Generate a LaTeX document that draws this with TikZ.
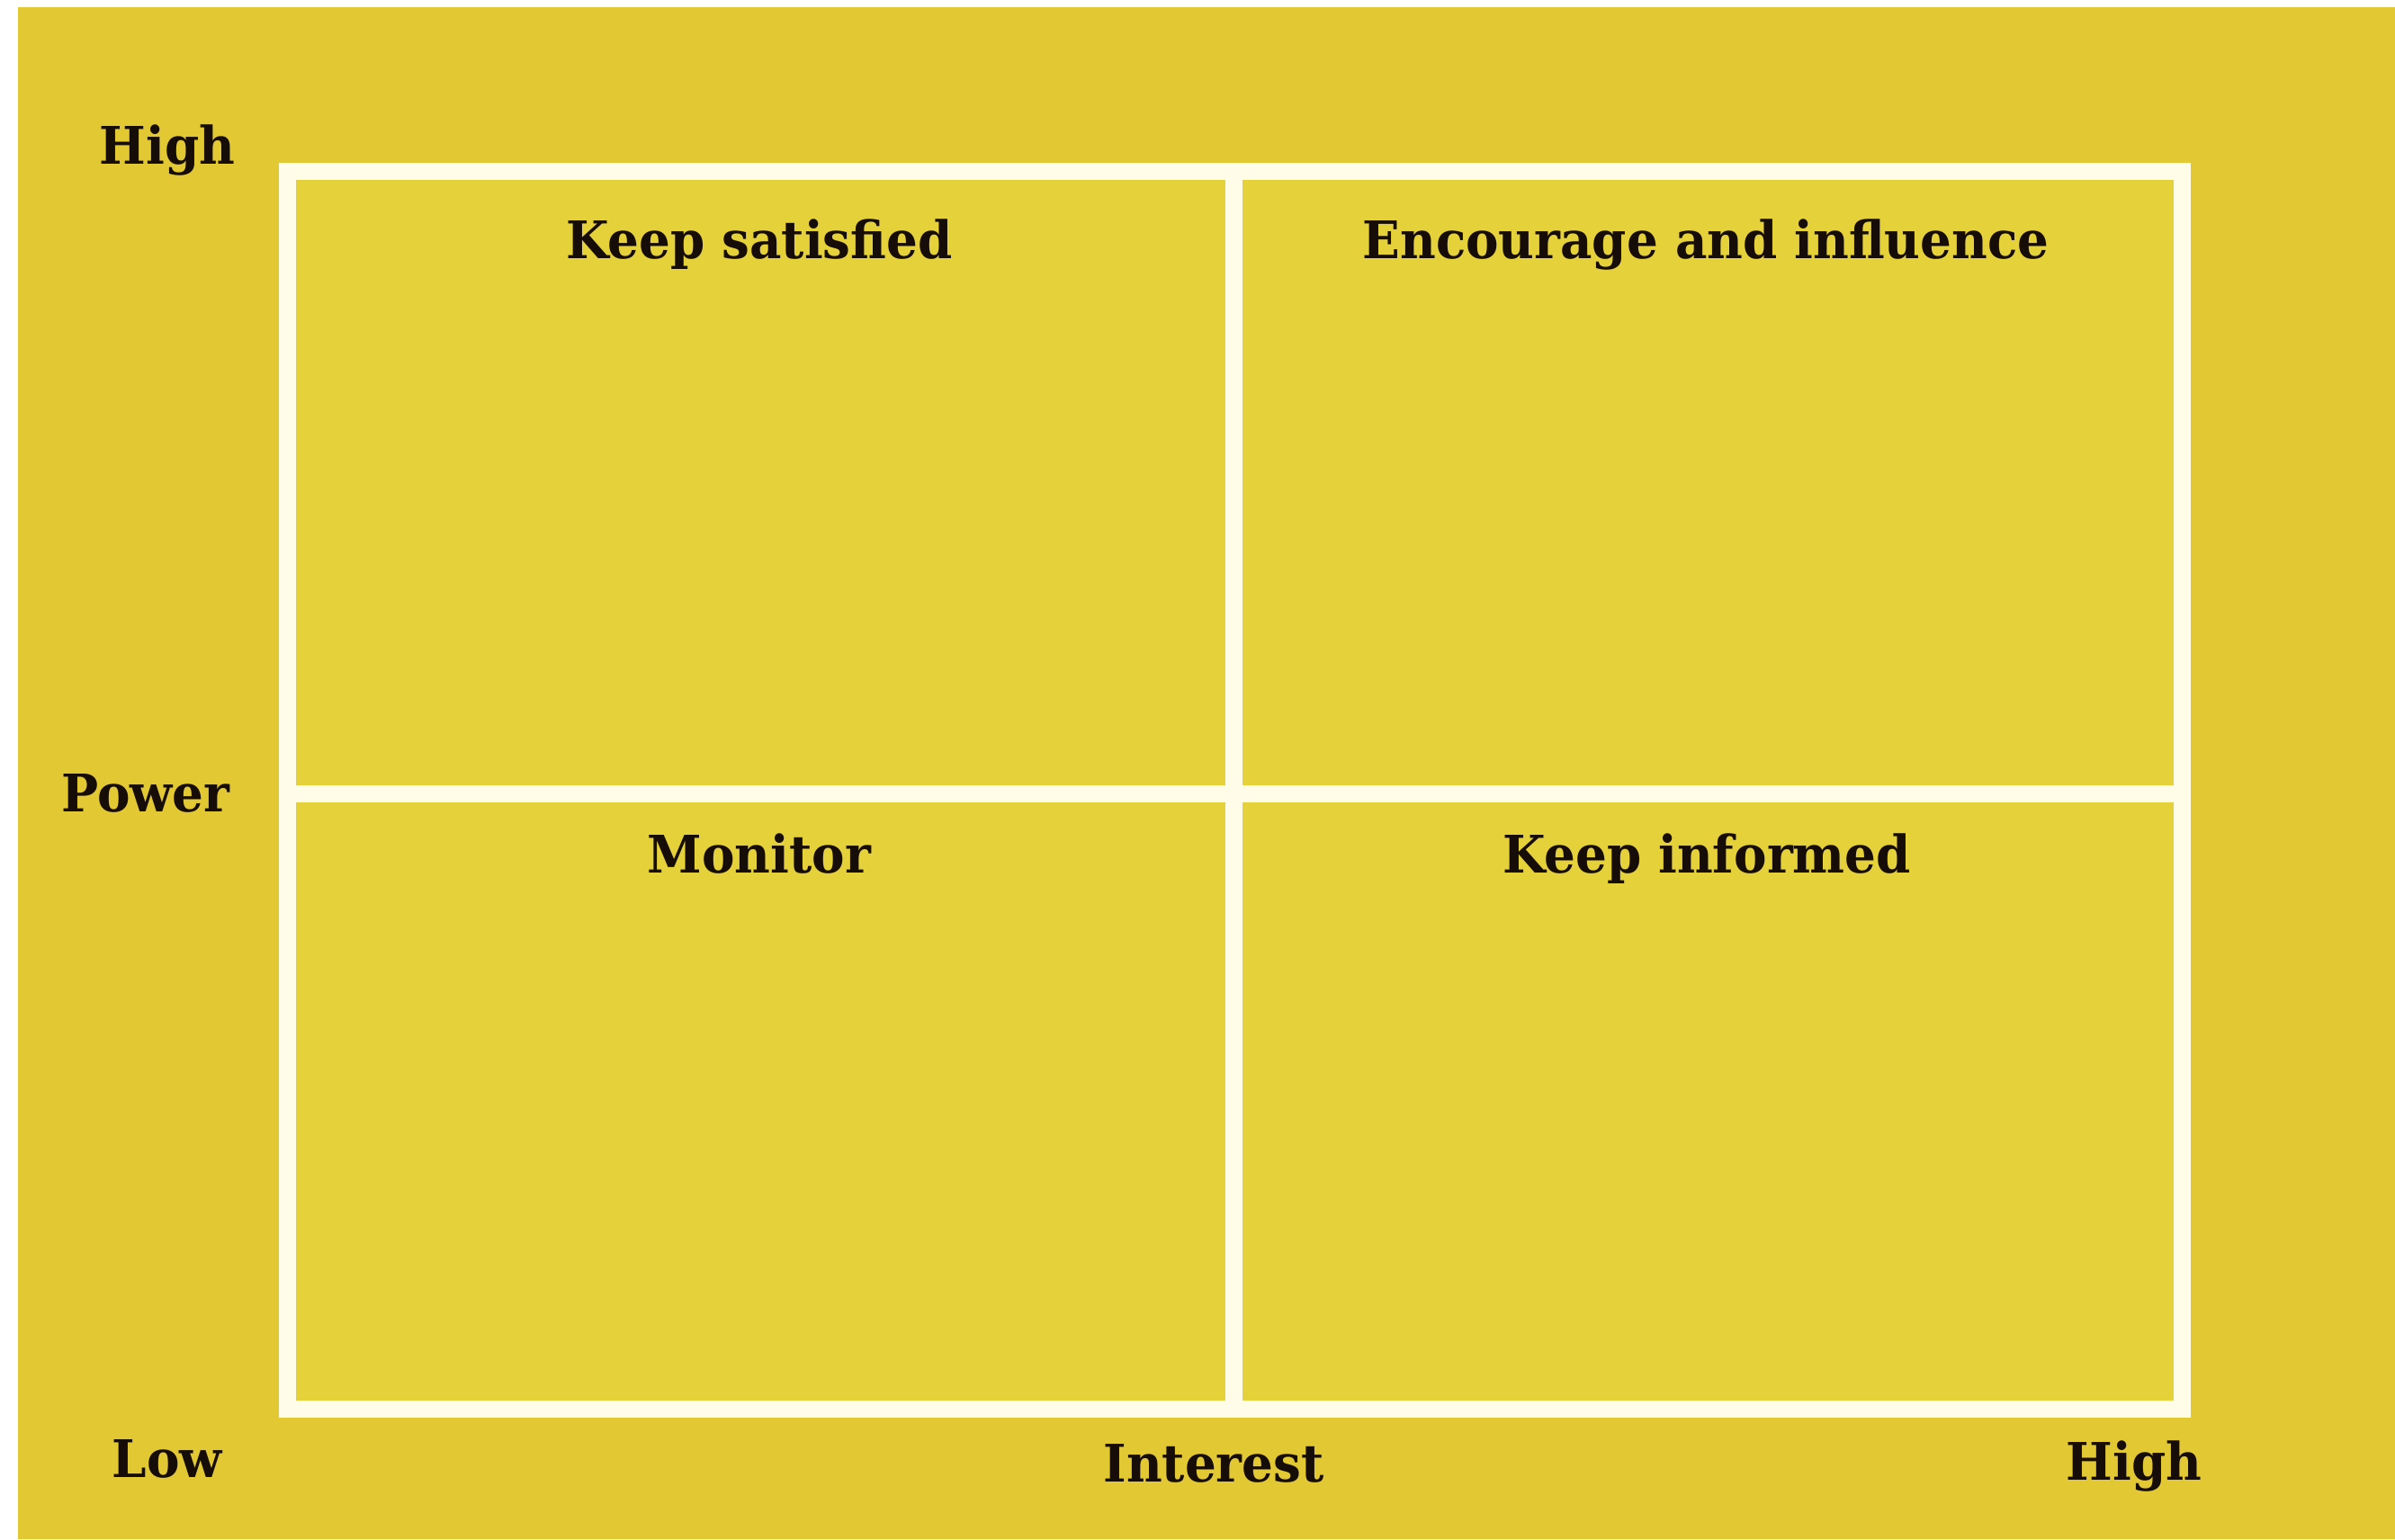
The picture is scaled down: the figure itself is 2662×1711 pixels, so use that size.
\documentclass[tikz,border=0pt]{standalone}
\usepackage{fontspec}
\setmainfont[FakeStretch=0.95]{DejaVu Serif}
\definecolor{outeryellow}{RGB}{226,201,52}
\definecolor{inneryellow}{RGB}{229,209,58}
\definecolor{gridline}{RGB}{255,253,232}
\definecolor{ink}{RGB}{22,12,8}
\begin{document}
\begin{tikzpicture}[x=0.25pt,y=-0.25pt,
  lbl/.style={anchor=base,inner sep=0pt,text=ink,font=\fontsize{14.4}{16}\selectfont\bfseries},
  gridstroke/.style={draw=gridline,line width=4.75pt}]
\useasboundingbox (0,0) rectangle (2662,1711);
% page and panel background
\fill[white] (0,0) rectangle (2662,1711);
\fill[outeryellow] (20,8) rectangle (2662,1711);
% quadrant area
\fill[inneryellow] (319,191) rectangle (2425,1566);
% frame and dividing lines
\coordinate (tl) at (319,191);
\coordinate (br) at (2425,1566);
\coordinate (vtop) at (1371,191);
\coordinate (vbot) at (1371,1566);
\coordinate (hl) at (319,882);
\coordinate (hr) at (2425,882);
\draw[gridstroke] (tl) rectangle (br);
\draw[gridstroke] (vtop) -- (vbot);
\draw[gridstroke] (hl) -- (hr);
% quadrant titles
\node[lbl] (ks) at (844,288) {Keep satisfied};
\node[lbl] (ei) at (1896,288) {Encourage and influence};
\node[lbl] (mo) at (844,970) {Monitor};
\node[lbl] (ki) at (1897,970) {Keep informed};
% axis labels
\node[lbl] (phigh) at (186,183) {High};
\node[lbl] (pow) at (162,902) {Power};
\node[lbl] (low) at (186,1642) {Low};
\node[lbl] (int) at (1349,1647) {Interest};
\node[lbl] (ihigh) at (2372,1645) {High};
\end{tikzpicture}
\end{document}
